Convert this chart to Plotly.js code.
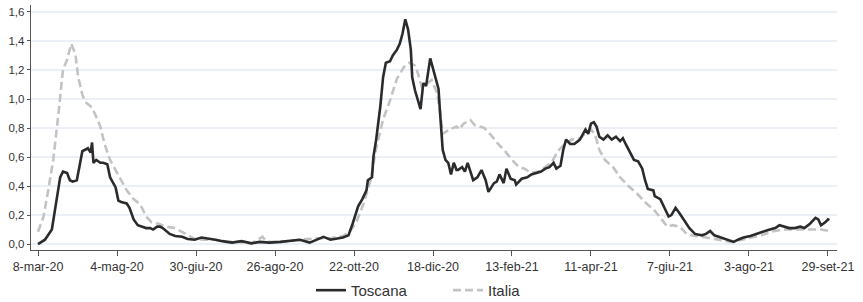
<!DOCTYPE html>
<html>
<head>
<meta charset="utf-8">
<script src="https://cdn.plot.ly/plotly-3.0.1.min.js"></script>
<style>html,body{margin:0;padding:0;background:#fff;}#chart{width:863px;height:302px;}</style>
</head>
<body>
<div id="chart"></div>
<script>
// Day offsets from 8-mar-2020 and values
const startDate = '2020-03-08';
const toscanaDay = [0,5,10,12,14,16,18,21,23,25,28,30,32,34,36,38,39,40,42,45,47,50,52,56,58,60,64,66,69,72,76,78,81,83,86,88,90,95,99,104,108,113,118,123,128,133,140,147,154,160,167,175,182,189,196,201,206,211,216,220,224,226,227,230,231,234,235,237,238,241,242,244,247,249,251,254,256,259,261,263,265,267,269,270,272,274,276,278,280,283,286,289,290,291,292,294,296,298,300,302,303,306,308,310,312,314,317,320,323,325,329,331,333,336,338,341,344,345,349,353,356,360,363,366,369,372,374,377,379,381,384,387,391,395,397,399,401,403,405,408,411,414,417,420,422,424,427,430,433,436,438,440,444,445,449,452,455,457,460,463,467,469,470,474,479,482,485,488,493,497,502,505,509,514,518,523,528,532,535,539,542,546,550,553,557,561,563,565,568,570,571];
const toscanaVal = [0.00,0.03,0.10,0.21,0.35,0.46,0.50,0.49,0.44,0.43,0.44,0.53,0.64,0.65,0.66,0.63,0.70,0.56,0.58,0.56,0.56,0.55,0.46,0.39,0.30,0.29,0.28,0.25,0.17,0.13,0.12,0.11,0.11,0.10,0.12,0.12,0.11,0.07,0.055,0.05,0.035,0.03,0.045,0.04,0.03,0.02,0.01,0.02,0.005,0.015,0.01,0.015,0.02,0.03,0.01,0.03,0.05,0.03,0.04,0.045,0.06,0.11,0.14,0.23,0.26,0.31,0.33,0.37,0.44,0.46,0.60,0.72,0.95,1.15,1.25,1.26,1.30,1.34,1.38,1.45,1.55,1.48,1.34,1.15,1.06,1.00,0.93,1.11,1.09,1.28,1.18,1.07,0.92,0.76,0.65,0.58,0.56,0.48,0.56,0.51,0.51,0.53,0.50,0.56,0.50,0.44,0.46,0.51,0.44,0.36,0.42,0.43,0.48,0.42,0.52,0.45,0.44,0.41,0.45,0.46,0.48,0.49,0.50,0.52,0.53,0.56,0.52,0.54,0.65,0.72,0.69,0.69,0.72,0.79,0.76,0.83,0.84,0.81,0.74,0.72,0.75,0.72,0.74,0.71,0.73,0.69,0.64,0.58,0.57,0.52,0.44,0.38,0.37,0.33,0.31,0.25,0.19,0.20,0.25,0.21,0.15,0.12,0.11,0.07,0.06,0.07,0.09,0.06,0.045,0.03,0.015,0.03,0.045,0.055,0.07,0.085,0.10,0.11,0.13,0.12,0.11,0.11,0.12,0.11,0.14,0.18,0.17,0.13,0.15,0.17,0.165];
const italiaDay = [0,4,7,11,15,18,21,23,24,27,29,32,34,38,41,45,48,52,56,59,64,69,74,78,82,87,92,99,106,113,120,128,135,145,154,159,162,165,175,189,201,211,220,225,230,235,240,244,249,254,259,264,268,272,274,277,281,284,288,290,292,297,302,304,307,312,315,322,327,332,337,342,347,351,356,361,366,371,375,380,385,391,399,402,405,409,415,420,426,432,439,445,450,454,458,463,468,472,479,486,493,500,508,515,522,529,537,544,551,558,565,571];
const italiaVal = [0.085,0.19,0.35,0.58,0.92,1.20,1.27,1.34,1.38,1.31,1.15,1.03,0.98,0.95,0.90,0.81,0.69,0.58,0.51,0.46,0.37,0.31,0.27,0.19,0.15,0.14,0.12,0.11,0.07,0.035,0.03,0.03,0.015,0.015,0.005,0.03,0.05,0.015,0.015,0.03,0.04,0.04,0.055,0.085,0.16,0.28,0.44,0.66,0.86,0.99,1.14,1.22,1.25,1.23,1.18,1.08,1.11,1.13,1.04,0.92,0.76,0.79,0.81,0.79,0.83,0.855,0.82,0.80,0.75,0.69,0.64,0.58,0.53,0.52,0.49,0.50,0.53,0.57,0.64,0.69,0.72,0.73,0.79,0.75,0.65,0.58,0.53,0.46,0.40,0.35,0.28,0.23,0.17,0.12,0.13,0.12,0.07,0.06,0.05,0.04,0.03,0.015,0.03,0.045,0.06,0.085,0.10,0.10,0.10,0.10,0.10,0.09];
const tickDates = ['2020-03-08','2020-05-04','2020-06-30','2020-08-26','2020-10-22','2020-12-18','2021-02-13','2021-04-11','2021-06-07','2021-08-03','2021-09-29'];
const tickLabels = ['8-mar-20','4-mag-20','30-giu-20','26-ago-20','22-ott-20','18-dic-20','13-feb-21','11-apr-21','7-giu-21','3-ago-21','29-set-21'];
const seriesNames = ['Toscana','Italia'];

function toDate(d){
  const t = Date.parse(startDate + 'T00:00:00Z') + d*86400000;
  return new Date(t).toISOString().slice(0,10);
}

const traces = [
  {x: toscanaDay.map(toDate), y: toscanaVal, name: seriesNames[0], type:'scatter', mode:'lines',
   line:{color:'#2b2b2b', width:2.6}},
  {x: italiaDay.map(toDate), y: italiaVal, name: seriesNames[1], type:'scatter', mode:'lines',
   line:{color:'#c3c3c3', width:2.6, dash:'8px,4px'}}
];
traces.reverse();

const layout = {
  width:863, height:302,
  margin:{l:31, r:26, t:5, b:52, autoexpand:false},
  paper_bgcolor:'#fff', plot_bgcolor:'#fff',
  separators:',.',
  font:{family:'"Liberation Sans", Arial, sans-serif', size:13, color:'#333'},
  showlegend:true,
  legend:{orientation:'h', x:0.3474, xanchor:'left', y:-0.165, yanchor:'middle',
          font:{size:15, color:'#333'}, traceorder:'reversed', itemwidth:30,
          entrywidth:92, entrywidthmode:'pixels'},
  xaxis:{type:'date', range:['2020-03-02 22:48','2021-10-05 12:00'],
         tickmode:'array', tickvals:tickDates, ticktext:tickLabels,
         showgrid:false, zeroline:false, showline:true, linecolor:'#555', linewidth:1.3,
         ticks:'outside', ticklen:5, tickcolor:'#555', tickfont:{size:12.5, color:'#333'}},
  yaxis:{range:[-0.041,1.648], tickvals:[0,0.2,0.4,0.6,0.8,1.0,1.2,1.4,1.6], tickformat:'.1f',
         showgrid:true, gridcolor:'#eaf0f5', gridwidth:1.5, zeroline:false,
         showline:true, linecolor:'#555', linewidth:1.3,
         ticks:'outside', ticklen:3, tickcolor:'#555', tickfont:{size:11.5, color:'#333'}}
};

Plotly.newPlot('chart', traces, layout, {displayModeBar:false, staticPlot:true});
</script>
</body>
</html>
